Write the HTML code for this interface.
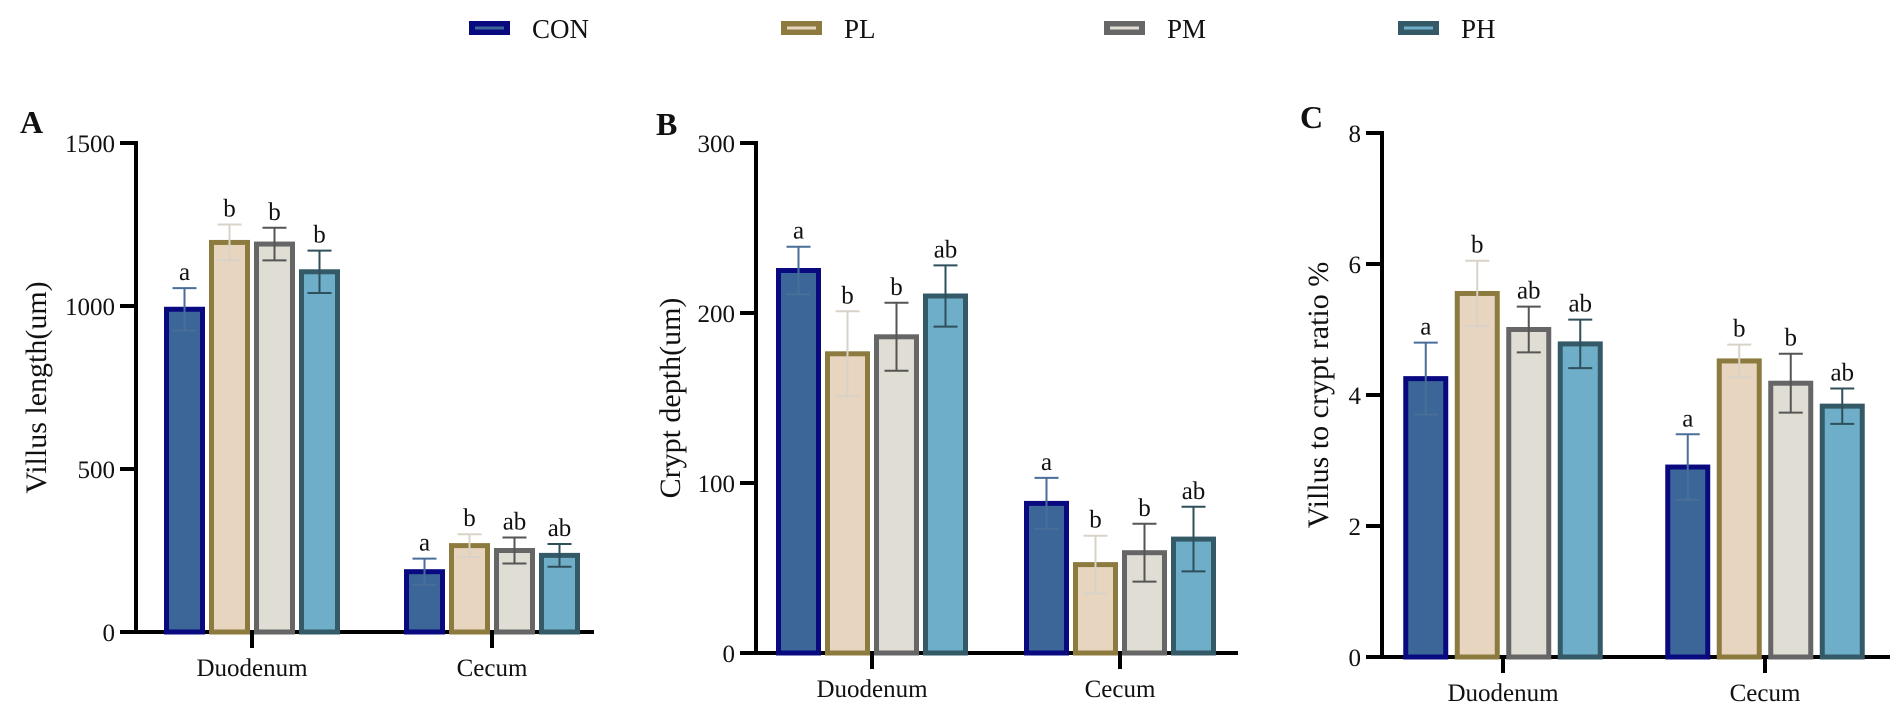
<!DOCTYPE html>
<html><head><meta charset="utf-8"><style>
html,body{margin:0;padding:0;background:#fff;}
svg{display:block;font-family:"Liberation Serif",serif;}
</style></head><body>
<svg id="fig" width="1902" height="720" viewBox="0 0 1902 720"></svg>
<script>
const groups = ["Duodenum","Cecum"];
const seriesNames = ["CON","PL","PM","PH"];
const aMeans = [[990,1195,1190,1105],[185,265,250,235]];
const aErrs = [[65,55,50,65],[40,35,40,35]];
const aLetters = [["a","b","b","b"],["a","b","ab","ab"]];
const aTicks = [0,500,1000,1500];
const bMeans = [[225,176,186,210],[88,52,59,67]];
const bErrs = [[14,25,20,18],[15,17,17,19]];
const bLetters = [["a","b","b","ab"],["a","b","b","ab"]];
const bTicks = [0,100,200,300];
const cMeans = [[4.25,5.55,5.0,4.78],[2.9,4.52,4.18,3.83]];
const cErrs = [[0.55,0.5,0.35,0.37],[0.5,0.25,0.45,0.27]];
const cLetters = [["a","b","ab","ab"],["a","b","b","ab"]];
const cTicks = [0,2,4,6,8];

const fills=["#3b6697","#e8d5bf","#e0ddd4","#6eaec8"];
const strokes=["#0a0a80","#8c7a3e","#666666","#345a68"];
const errCol=["#4a6e9a","#d8d2c8","#555555","#2f4f5a"];
const NS="http://www.w3.org/2000/svg";
const svg=document.getElementById('fig');
function mk(tag,attrs,parent,text){const e=document.createElementNS(NS,tag);for(const k in attrs)e.setAttribute(k,attrs[k]);if(text!==undefined)e.textContent=text;(parent||svg).appendChild(e);return e;}

// legend
const legX=[469,781,1104,1398];
seriesNames.forEach((n,i)=>{
  const g=mk('g',{});
  
  
  mk('rect',{x:legX[i],y:21,width:41,height:14,fill:strokes[i]},g);
  mk('line',{x1:legX[i]+6,x2:legX[i]+35,y1:28,y2:28,stroke:fills[i],'stroke-width':3},g);
  mk('text',{x:legX[i]+63,y:38,'font-size':27,fill:'#111'},g,n);
});

function panel(cfg){
  const g=mk('g',{});
  
  
  const y=v=>cfg.y0-(v/cfg.max)*(cfg.y0-cfg.yTop);
  mk('text',{x:cfg.lx,y:cfg.ly,'font-size':32,'font-weight':'bold',fill:'#111'},g,cfg.label);
  mk('line',{x1:cfg.ax,x2:cfg.ax,y1:cfg.yTop-2,y2:cfg.y0+2,stroke:'#000','stroke-width':4},g);
  mk('line',{x1:cfg.ax-16,x2:cfg.xEnd,y1:cfg.y0,y2:cfg.y0,stroke:'#000','stroke-width':4},g);
  cfg.ticks.forEach(t=>{
    mk('line',{x1:cfg.ax-16,x2:cfg.ax,y1:y(t),y2:y(t),stroke:'#000','stroke-width':4},g);
    const tl=mk('text',{x:cfg.ax-21,y:y(t)+9,'font-size':25,'text-anchor':'end',fill:'#111'},g,String(t));
    
    
  });
  const yt=mk('text',{x:0,y:0,'font-size':30,'text-anchor':'middle',fill:'#111',transform:`translate(${cfg.tx},${(cfg.yTop+cfg.y0)/2}) rotate(-90)`},g,cfg.title);
  
  
  groups.forEach((gn,gi)=>{
    const c=cfg.centers[gi];
    mk('line',{x1:c,x2:c,y1:cfg.y0,y2:cfg.y0+16,stroke:'#000','stroke-width':4},g);
    const xl=mk('text',{x:c,y:cfg.y0+44,'font-size':25,'text-anchor':'middle',fill:'#111'},g,gn);
    
    
    cfg.means[gi].forEach((m,si)=>{
      const cx=c+(si-1.5)*cfg.slot;
      const w=cfg.bw;
      const r=mk('rect',{x:cx-w/2,y:y(m),width:w,height:cfg.y0-y(m),fill:fills[si],stroke:strokes[si],'stroke-width':5},g);
      
      
      const e=cfg.errs[gi][si];
      const eg=mk('g',{stroke:errCol[si],'stroke-width':2},g);
      
      
      mk('line',{x1:cx,x2:cx,y1:y(m+e),y2:y(m-e)},eg);
      mk('line',{x1:cx-12,x2:cx+12,y1:y(m+e),y2:y(m+e)},eg);
      mk('line',{x1:cx-12,x2:cx+12,y1:y(m-e),y2:y(m-e)},eg);
      const lt=mk('text',{x:cx,y:y(m+e)-8,'font-size':25,'text-anchor':'middle',fill:'#111'},g,cfg.letters[gi][si]);
      
      
    });
  });
}
panel({label:'A',lx:20,ly:133,ax:136,yTop:143,y0:632,max:1500,xEnd:594,ticks:aTicks,title:'Villus length(um)',tx:46,centers:[252,492],slot:45,bw:36,means:aMeans,errs:aErrs,letters:aLetters});
panel({label:'B',lx:656,ly:135,ax:756,yTop:143,y0:653,max:300,xEnd:1238,ticks:bTicks,title:'Crypt depth(um)',tx:680,centers:[872,1120],slot:49,bw:40,means:bMeans,errs:bErrs,letters:bLetters});
panel({label:'C',lx:1300,ly:128,ax:1382,yTop:133,y0:657,max:8,xEnd:1890,ticks:cTicks,title:'Villus to crypt ratio %',tx:1328,centers:[1503,1765],slot:51.5,bw:40,means:cMeans,errs:cErrs,letters:cLetters});
</script>
</body></html>
